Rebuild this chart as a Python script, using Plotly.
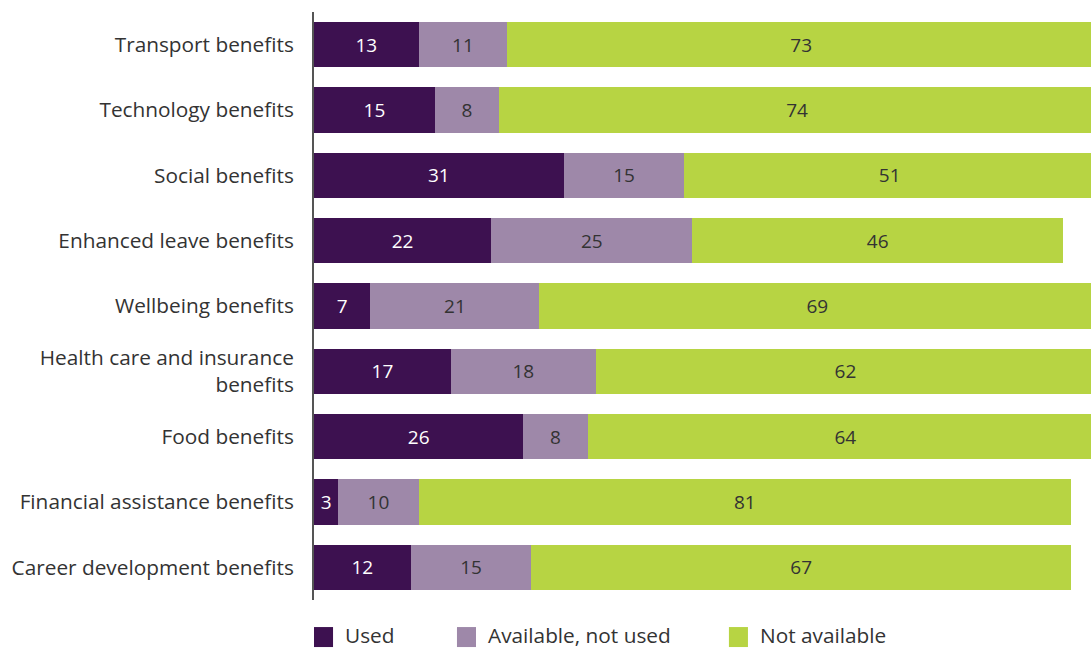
import plotly.graph_objects as go

categories = [
    "Transport benefits",
    "Technology benefits",
    "Social benefits",
    "Enhanced leave benefits",
    "Wellbeing benefits",
    "Health care and insurance<br>benefits",
    "Food benefits",
    "Financial assistance benefits",
    "Career development benefits",
]
used = [13, 15, 31, 22, 7, 17, 26, 3, 12]
available_not_used = [11, 8, 15, 25, 21, 18, 8, 10, 15]
not_available = [73, 74, 51, 46, 69, 62, 64, 81, 67]

series_names = ["Used", "Available, not used", "Not available"]
series_values = [used, available_not_used, not_available]
colors = ["#3d1150", "#9e88a9", "#b7d443"]
label_colors = ["#ffffff", "#333333", "#333333"]

FONT = "Open Sans"

fig = go.Figure()
for name, vals, col, lc in zip(series_names, series_values, colors, label_colors):
    fig.add_trace(go.Bar(
        y=categories,
        x=vals,
        name=name,
        orientation="h",
        marker=dict(color=col, line=dict(width=0)),
        text=[str(v) for v in vals],
        textposition="inside",
        insidetextanchor="middle",
        textangle=0,
        textfont=dict(color=lc, size=19, family=FONT),
        showlegend=False,
        hoverinfo="skip",
    ))

# Legend drawn as swatches + labels below the plot area
legend_x = [0.0, 0.184, 0.534]
for name, col, lx in zip(series_names, colors, legend_x):
    fig.add_shape(type="rect", xref="paper", yref="paper",
                  x0=lx, x1=lx + 0.0245, y0=-0.046, y1=-0.080,
                  fillcolor=col, line=dict(width=0))
    fig.add_annotation(xref="paper", yref="paper", x=lx + 0.039, y=-0.060,
                       text=name, showarrow=False, xanchor="left", yanchor="middle",
                       borderpad=0,
                       font=dict(size=20.8, color="#333333", family=FONT))

fig.update_layout(
    barmode="stack",
    bargap=0.31,
    width=1091,
    height=650,
    margin=dict(l=314, r=0, t=12, b=50),
    paper_bgcolor="white",
    plot_bgcolor="white",
    font=dict(family=FONT, color="#333333"),
    uniformtext=dict(mode="show", minsize=10),
    xaxis=dict(range=[0, 96.5], showgrid=False, zeroline=False,
               showticklabels=False, ticks=""),
    yaxis=dict(autorange="reversed", showgrid=False, zeroline=False,
               showline=True, linecolor="#555555", linewidth=2,
               ticks="", ticklabelstandoff=14,
               tickfont=dict(size=20.8, color="#333333", family=FONT)),
)

fig.write_html("out.html")
